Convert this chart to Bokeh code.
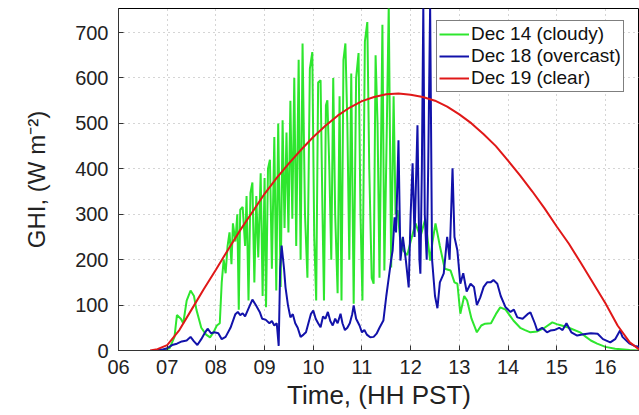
from bokeh.plotting import figure
from bokeh.models import Legend, LegendItem, FixedTicker, Range1d
from bokeh.embed import file_html
from bokeh.resources import INLINE

# ---- data (hours PST, GHI W m^-2) ----
green_t = [6.7, 6.9, 7.05, 7.15, 7.2, 7.28, 7.33, 7.4, 7.48, 7.55, 7.6, 7.7, 7.8, 7.88, 7.95,
           8.02, 8.08, 8.12, 8.16, 8.2, 8.24, 8.28, 8.32, 8.35, 8.4, 8.44, 8.47, 8.5, 8.55, 8.6,
           8.63, 8.67, 8.71, 8.75, 8.79, 8.83, 8.87, 8.92, 8.96, 9.0, 9.03, 9.07, 9.11, 9.15,
           9.2, 9.24, 9.28, 9.33, 9.37, 9.41, 9.45, 9.49, 9.53, 9.57, 9.61, 9.65, 9.7, 9.74,
           9.78, 9.83, 9.88, 9.93, 9.98, 10.02, 10.06, 10.1, 10.15, 10.19, 10.22, 10.26, 10.29,
           10.33, 10.37, 10.41, 10.45, 10.5, 10.54, 10.58, 10.62, 10.66, 10.7, 10.74, 10.78,
           10.83, 10.88, 10.93, 10.97, 11.01, 11.06, 11.11, 11.15, 11.2, 11.24, 11.28, 11.32,
           11.36, 11.42, 11.46, 11.5, 11.55, 11.6, 11.65, 11.69, 11.73, 11.78, 11.85, 11.93,
           12.0, 12.1, 12.2, 12.3, 12.4, 12.45, 12.51, 12.6, 12.7, 12.82, 12.9, 12.96, 13.02,
           13.1, 13.16, 13.25, 13.36, 13.45, 13.53, 13.65, 13.75, 13.84, 13.95, 14.05, 14.11,
           14.25, 14.35, 14.46, 14.6, 14.75, 14.91, 15.0, 15.1, 15.25, 15.48, 15.6, 15.7, 15.83,
           16.0, 16.2, 16.5, 16.7]
green_v = [0, 1, 5, 30, 78, 70, 60, 110, 132, 120, 90, 50, 35, 29, 40,
           55, 60, 150, 200, 170, 230, 260, 190, 280, 240, 300, 90, 310, 316, 230,
           340, 110, 347, 370, 150, 340, 205, 390, 120, 380, 95, 400, 420, 180,
           470, 132, 500, 140, 507, 270, 480, 260, 550, 290, 600, 230, 640, 200,
           676, 300, 160, 620, 657, 250, 110, 590, 595, 300, 110, 540, 551,
           400, 200, 600, 300, 126, 560, 110, 640, 676, 500, 200, 610,
           103, 600, 655, 300, 110, 680, 723, 400, 160, 147, 650, 500,
           160, 717, 176, 420, 760, 183, 560, 300, 309, 250, 220, 210,
           240, 280, 250, 290, 198, 240, 280, 230, 180, 176, 150, 147, 81,
           120, 110, 70, 40, 55, 59, 60, 80, 95, 90, 75, 66,
           50, 45, 40, 42, 50, 62, 58, 55, 50, 40, 30, 22, 15,
           8, 4, 1, 0]

blue_t = [6.75, 6.9, 7.0, 7.1, 7.2, 7.3, 7.4, 7.48, 7.55, 7.62, 7.7, 7.78, 7.83, 7.9, 7.97,
          8.05, 8.12, 8.2, 8.3, 8.4, 8.45, 8.5, 8.55, 8.6, 8.68, 8.75, 8.82, 8.9, 8.95, 9.02,
          9.1, 9.15, 9.2, 9.25, 9.29, 9.32, 9.35, 9.4, 9.43, 9.48, 9.53, 9.58, 9.63, 9.68,
          9.74, 9.8, 9.85, 9.9, 9.95, 10.0, 10.05, 10.1, 10.15, 10.2, 10.25, 10.3, 10.35,
          10.4, 10.45, 10.5, 10.56, 10.6, 10.65, 10.7, 10.75, 10.8, 10.83, 10.88, 10.95,
          11.0, 11.05, 11.1, 11.17, 11.24, 11.3, 11.36, 11.44, 11.5, 11.55, 11.6, 11.63,
          11.67, 11.7, 11.75, 11.79, 11.84, 11.9, 11.96, 12.0, 12.04, 12.08, 12.14, 12.18,
          12.2, 12.23, 12.26, 12.29, 12.33, 12.36, 12.4, 12.44, 12.5, 12.55, 12.6, 12.68,
          12.75, 12.8, 12.86, 12.9, 12.96, 13.02, 13.08, 13.15, 13.23, 13.3, 13.36, 13.43,
          13.5, 13.57, 13.64, 13.7, 13.78, 13.85, 13.95, 14.05, 14.12, 14.19, 14.3, 14.4,
          14.46, 14.55, 14.6, 14.7, 14.8, 14.87, 14.95, 15.05, 15.12, 15.2, 15.3, 15.42,
          15.55, 15.7, 15.84, 15.95, 16.1, 16.2, 16.3, 16.35, 16.45, 16.5, 16.6, 16.7]
blue_v = [0, 2, 5, 12, 15, 20, 22, 30, 20, 12, 25, 40, 48, 38, 40,
          38, 25, 30, 50, 80, 85, 78, 82, 75, 95, 112, 100, 85, 70, 68,
          60, 65, 55, 60, 10, 180, 231, 180, 139, 100, 73, 80, 60, 50,
          30, 35, 40, 60, 80, 88, 70, 60, 51, 75, 70, 85, 65,
          55, 70, 60, 81, 60, 45, 50, 60, 80, 99, 70, 55,
          40, 45, 35, 29, 30, 37, 50, 66, 120, 160, 200, 220,
          293, 260, 463, 198, 250, 200, 139, 300, 412, 250, 496, 200,
          169, 400, 760, 300, 200, 400, 760, 200, 120, 93, 150, 170,
          250, 200, 401, 250, 220, 147, 170, 130, 147, 140, 100, 117,
          140, 150, 150, 155, 147, 120, 95, 85, 90, 73, 70, 80,
          84, 60, 44, 50, 40, 44, 45, 50, 45, 60, 40, 33,
          36, 38, 37, 25, 18, 25, 44, 30, 20, 15, 10, 8]

red_t = [6.65, 6.8, 7.0, 7.25, 7.5, 7.75, 8.0, 8.25, 8.5, 8.75, 9.0, 9.25, 9.5, 9.75,
         10.0, 10.25, 10.5, 10.75, 11.0, 11.25, 11.5, 11.75, 12.0, 12.25, 12.5, 12.75,
         13.0, 13.25, 13.5, 13.75, 14.0, 14.25, 14.5, 14.75, 15.0, 15.25, 15.5, 15.75,
         16.0, 16.25, 16.5, 16.7]
red_v = [0, 3, 12, 45, 90, 135, 178, 222, 265, 305, 345, 380, 412, 442,
         470, 495, 517, 535, 549, 558, 564, 566, 563, 558, 550, 537,
         520, 500, 476, 450, 418, 385, 350, 313, 273, 235, 192, 148,
         104, 55, 18, 2]

x_ticks = [6, 7, 8, 9, 10, 11, 12, 13, 14, 15, 16]
x_tick_labels = ["06", "07", "08", "09", "10", "11", "12", "13", "14", "15", "16"]
y_ticks = [0, 100, 200, 300, 400, 500, 600, 700]

series_names = ["Dec 14 (cloudy)", "Dec 18 (overcast)", "Dec 19 (clear)"]

FONT = "Liberation Sans"

p = figure(width=639, height=415, output_backend="svg", toolbar_location=None,
           x_range=Range1d(6, 16.7), y_range=Range1d(0, 753),
           min_border_left=118, min_border_right=0, min_border_top=8, min_border_bottom=65)
p.background_fill_color = "white"
p.border_fill_color = "white"
p.outline_line_color = "black"
p.outline_line_width = 1

g = p.line(green_t, green_v, line_color="#2ee62e", line_width=2)
b = p.line(blue_t, blue_v, line_color="#1212aa", line_width=2)
r = p.line(red_t, red_v, line_color="#e01818", line_width=2)

for ax in (p.xaxis[0], p.yaxis[0]):
    ax.major_tick_in = 5
    ax.major_tick_out = 0
    ax.minor_tick_in = 0
    ax.minor_tick_out = 0
    ax.axis_line_color = "#333333"
    ax.major_tick_line_color = "#333333"
    ax.major_label_text_font = FONT
    ax.major_label_text_font_size = "20px"
    ax.major_label_text_color = "#222222"
    ax.axis_label_text_font = FONT
    ax.axis_label_text_font_style = "normal"
    ax.axis_label_text_color = "#222222"

p.xaxis[0].ticker = FixedTicker(ticks=x_ticks)
p.xaxis[0].major_label_overrides = {t: l for t, l in zip(x_ticks, x_tick_labels)}
p.xaxis[0].axis_label = "Time, (HH PST)"
p.xaxis[0].axis_label_text_font_size = "26px"
p.xaxis[0].major_label_standoff = 9
p.xaxis[0].axis_label_standoff = 3

p.yaxis[0].ticker = FixedTicker(ticks=y_ticks)
p.yaxis[0].axis_label = "GHI, (W m⁻²)"
p.yaxis[0].axis_label_text_font_size = "24px"
p.yaxis[0].major_label_standoff = 10
p.yaxis[0].axis_label_standoff = 22

p.xgrid.ticker = FixedTicker(ticks=x_ticks)
p.ygrid.ticker = FixedTicker(ticks=y_ticks)
for gr in (p.xgrid[0], p.ygrid[0]):
    gr.grid_line_color = "#aaaaaa"
    gr.grid_line_dash = "1 4"
    gr.grid_line_width = 1

legend = Legend(items=[LegendItem(label=series_names[0], renderers=[g]),
                       LegendItem(label=series_names[1], renderers=[b]),
                       LegendItem(label=series_names[2], renderers=[r])],
                location=(318, 258))
legend.label_text_font = FONT
legend.label_text_font_size = "19px"
legend.label_text_color = "#111111"
legend.label_text_line_height = 1.0
legend.border_line_color = "black"
legend.border_line_width = 1
legend.glyph_width = 30
legend.glyph_height = 20
legend.label_height = 20
legend.label_standoff = 2
legend.spacing = 0
legend.padding = 2
legend.margin = 0
legend.background_fill_alpha = 1
p.add_layout(legend)

open("out.html", "w").write(file_html(p, INLINE))
